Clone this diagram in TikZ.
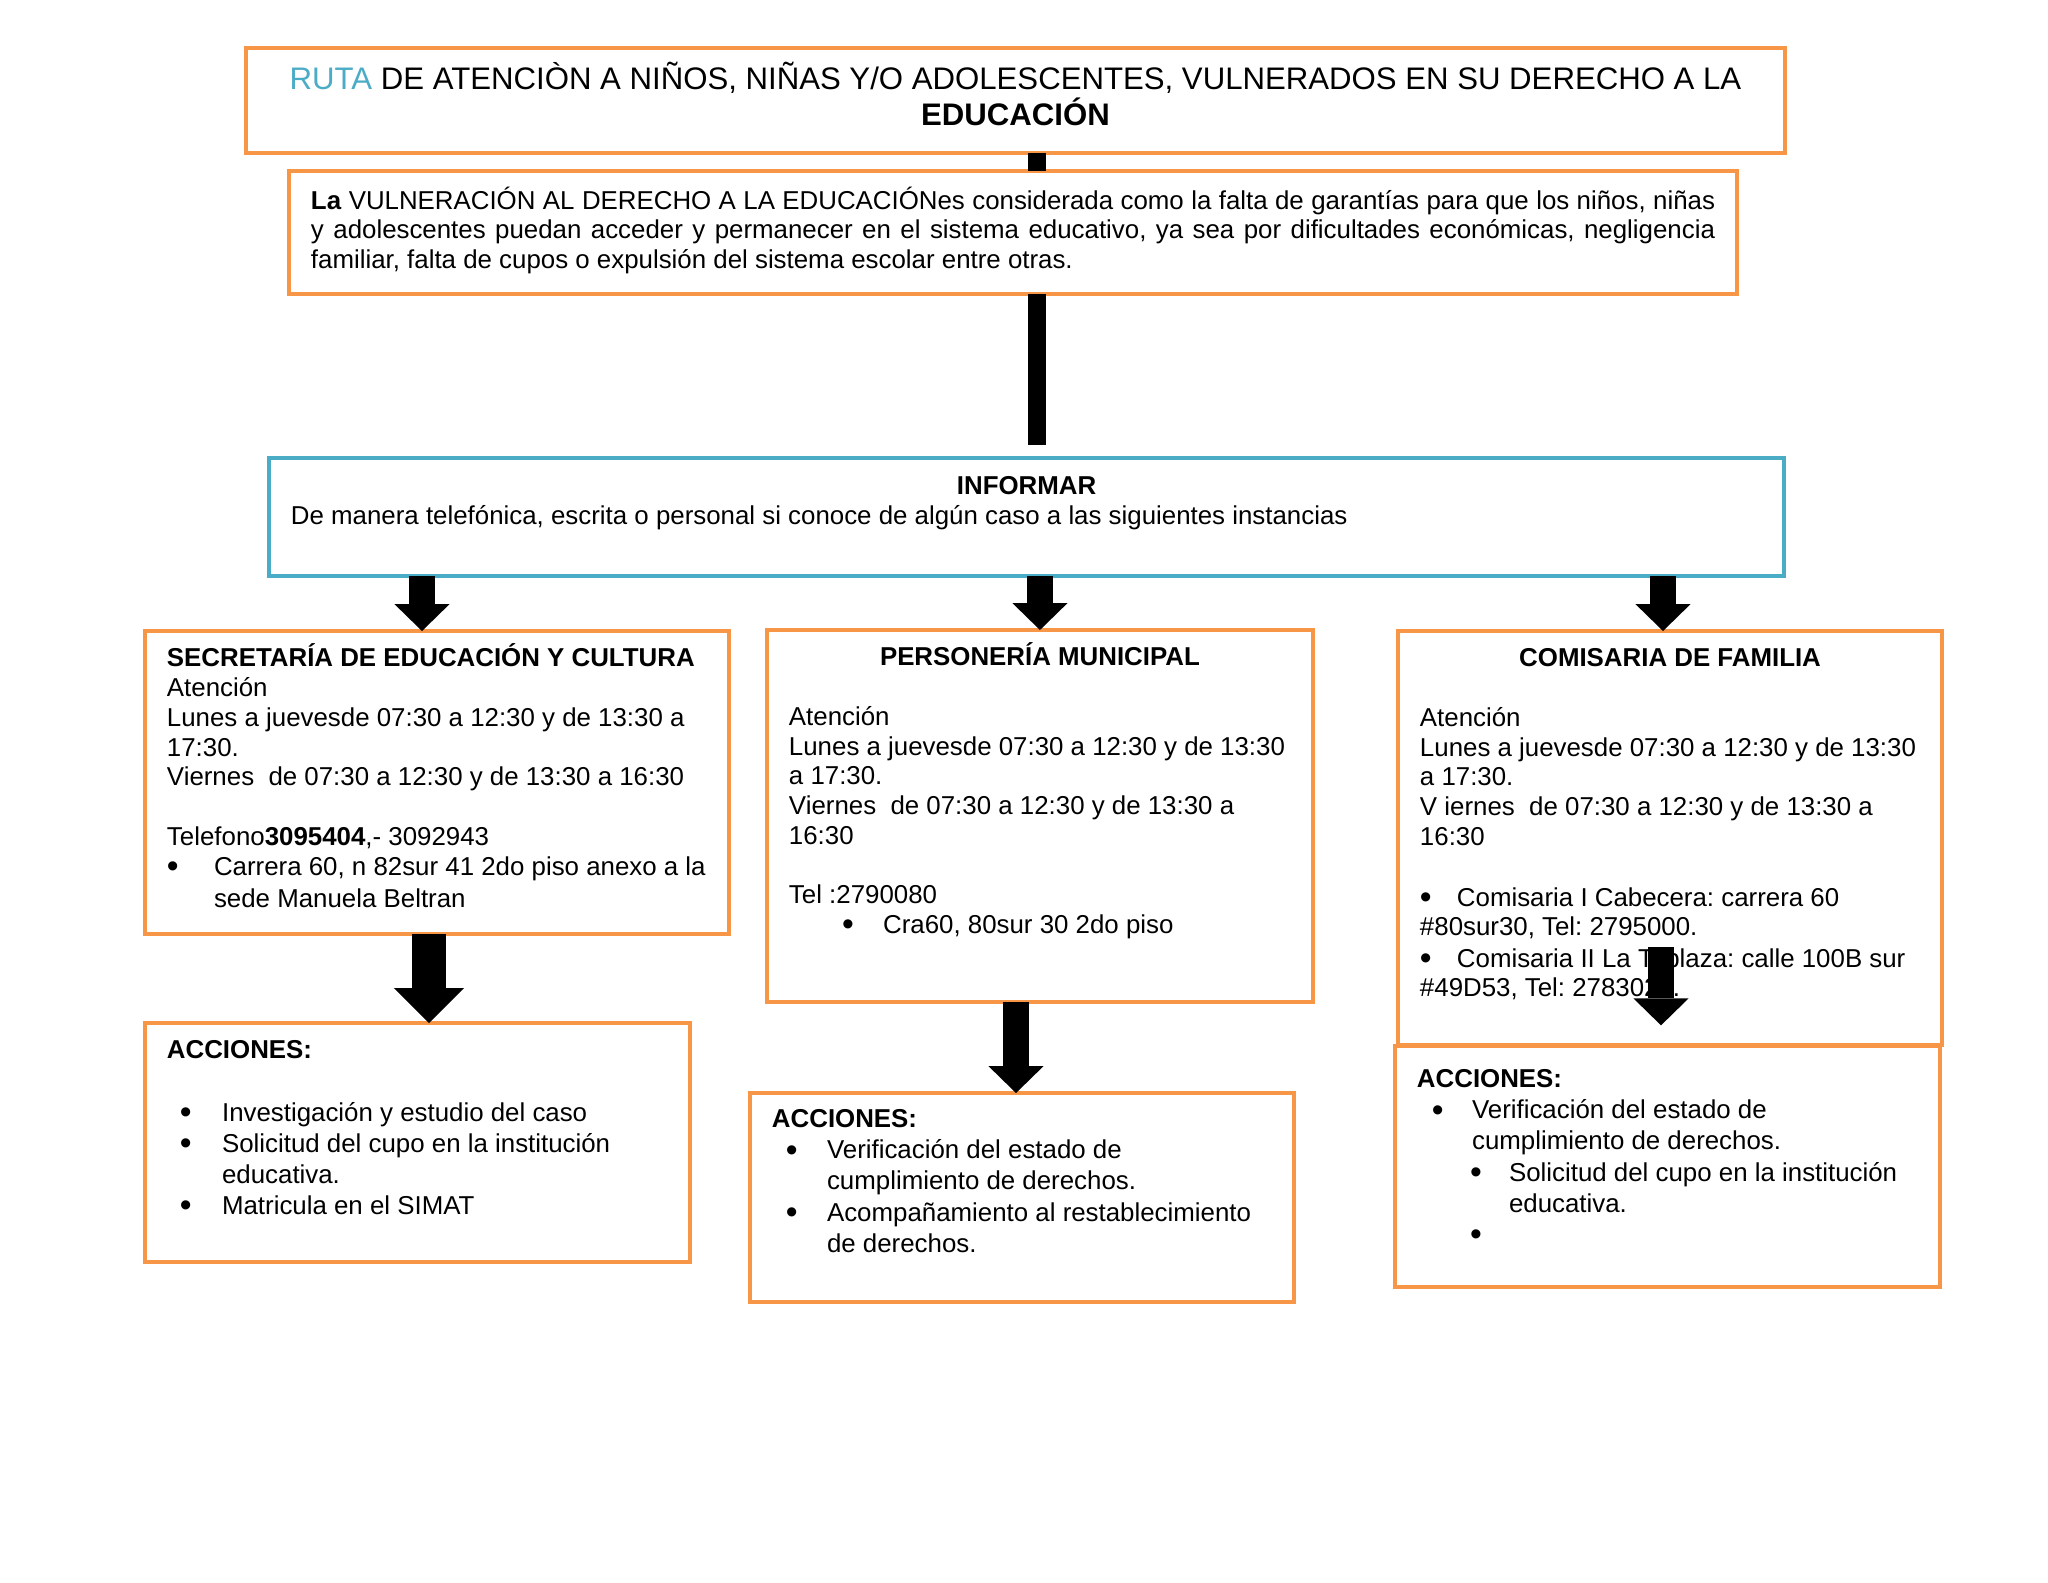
\documentclass[tikz,border=0pt]{standalone}
\usepackage{fontspec}
\setmainfont{Liberation Sans}
\usetikzlibrary{arrows.meta,positioning}
\definecolor{naranja}{HTML}{F79646}
\definecolor{celeste}{HTML}{4BACC6}
\frenchspacing
\newcommand{\vineta}[2]{\hspace*{#1}\makebox[#2][l]{\raisebox{-0.9pt}{\fontsize{13}{10}\selectfont\textbullet}}}

\begin{document}
\begin{tikzpicture}[
  x=0.3867pt, y=-0.3867pt,
  caja/.style={draw=naranja, line width=1.7pt, anchor=north west, outer sep=0pt,
    inner xsep=8.5pt, inner ysep=0pt, align=flush left, font=\fontsize{10}{11.5}\selectfont},
  accion/.style={caja, font=\fontsize{10}{12}\selectfont},
  barra/.style={line width=7.3pt},
  flecha/.style={line width=10.4pt, -{Triangle[length=10.4pt, width=21.3pt, line width=0pt]}},
  flechaancha/.style={line width=13.1pt, -{Triangle[length=13.5pt, width=27.1pt, line width=0pt]}}
]
\useasboundingbox (0,0) rectangle (2048,1582);
\fill[white] (0,0) rectangle (2048,1582);

% titulo y definicion
\node[draw=naranja, line width=1.7pt, anchor=north, outer sep=0pt, inner sep=0pt,
  text width=595.2pt, text height=15.9pt, text depth=24.7pt, align=flush center,
  font=\fontsize{12.05}{14.1}\selectfont] (titulo) at (1015.5,48)
  {{\color{celeste}RUTA} DE ATENCIÒN A NIÑOS, NIÑAS Y/O ADOLESCENTES, VULNERADOS EN SU DERECHO A LA\\
   \textbf{EDUCACIÓN}};
\node[caja, align=justify, text width=543pt, text height=14.7pt, text depth=32.9pt] (def) at (289,171)
  {\textbf{La} VULNERACIÓN AL DERECHO A LA EDUCACIÓNes considerada como la falta de garantías para que los niños, niñas\linebreak
   y adolescentes puedan acceder y permanecer en el sistema educativo, ya sea por dificultades económicas, negligencia\linebreak
   familiar, falta de cupos o expulsión del sistema escolar entre otras.};

% informar
\node[caja, draw=celeste, text width=568.9pt, text height=14.3pt, text depth=31.3pt] (informar) at (269,458)
  {\makebox[\linewidth]{\textbf{INFORMAR}}\\
   De manera telefónica, escrita o personal si conoce de algún caso a las siguientes instancias};

% instancias
\node[caja, text width=208.8pt, text height=13.9pt, text depth=103.3pt] (sec) at (145,631)
  {\textbf{SECRETARÍA DE EDUCACIÓN Y CULTURA}\\
   Atención\\
   Lunes a juevesde 07:30 a 12:30 y de 13:30 a\\
   17:30.\\
   Viernes\ \ de 07:30 a 12:30 y de 13:30 a 16:30\\[11.5pt]
   Telefono\textbf{3095404},- 3092943\\
   \vineta{0pt}{18.2pt}Carrera 60, n 82sur 41 2do piso anexo a la\\[1.1pt]
   \hspace*{18.2pt}sede Manuela Beltran};
\node[caja, text width=194.1pt, text height=13.9pt, text depth=130pt] (per) at (767,630)
  {\makebox[\linewidth]{\textbf{PERSONERÍA MUNICIPAL}}\\[11.5pt]
   Atención\\
   Lunes a juevesde 07:30 a 12:30 y de 13:30\\
   a 17:30.\\
   Viernes\ \ de 07:30 a 12:30 y de 13:30 a\\
   16:30\\[11.5pt]
   Tel :2790080\\
   \vineta{20.5pt}{15.9pt}Cra60, 80sur 30 2do piso};
\node[caja, text width=193.4pt, text height=13.9pt, text depth=146.2pt] (com) at (1398,631)
  {\makebox[\linewidth]{\textbf{COMISARIA DE FAMILIA}}\\[11.5pt]
   Atención\\
   Lunes a juevesde 07:30 a 12:30 y de 13:30\\
   a 17:30.\\
   V iernes\ \ de 07:30 a 12:30 y de 13:30 a\\
   16:30\\[12pt]
   \vineta{0pt}{14.3pt}Comisaria I Cabecera: carrera 60\\
   \#80sur30, Tel: 2795000.\\[0.6pt]
   \vineta{0pt}{14.3pt}Comisaria II La Tablaza: calle 100B sur\\
   \#49D53, Tel: 2783020.};

% acciones
\node[accion, text width=193.8pt, text height=13.9pt, text depth=78.5pt] (acc1) at (145,1023)
  {\textbf{ACCIONES:}\\[12pt]
   \vineta{5pt}{16.3pt}Investigación y estudio del caso\\
   \vineta{5pt}{16.3pt}Solicitud del cupo en la institución\\
   \hspace*{21.3pt}educativa.\\
   \vineta{5pt}{16.3pt}Matricula en el SIMAT};
\node[accion, text width=193.4pt, text height=13.5pt, text depth=67.3pt] (acc2) at (750,1093)
  {\textbf{ACCIONES:}\\
   \vineta{5.4pt}{15.9pt}Verificación del estado de\\
   \hspace*{21.3pt}cumplimiento de derechos.\\
   \vineta{5.4pt}{15.9pt}Acompañamiento al restablecimiento\\
   \hspace*{21.3pt}de derechos.};
\node[accion, text width=193.8pt, text height=16.2pt, text depth=77pt] (acc3) at (1395,1046)
  {\textbf{ACCIONES:}\\
   \vineta{5.8pt}{15.5pt}Verificación del estado de\\
   \hspace*{21.3pt}cumplimiento de derechos.\\
   \vineta{20.5pt}{15.1pt}Solicitud del cupo en la institución\\
   \hspace*{35.6pt}educativa.\\
   \vineta{20.5pt}{15.1pt}};

% conectores
\coordinate (eje) at (1037,0);
\coordinate (f1) at (422,0);
\coordinate (f3) at (1663,0);
\coordinate (g1) at (429,0);
\coordinate (g2) at (1016,0);
\coordinate (g3) at (1661,947);

\draw[barra] (titulo.south -| eje) -- (def.north -| eje);
\draw[barra, shorten >=5pt] (def.south -| eje) -- (informar.north -| eje);
\draw[flecha] (informar.south -| f1) -- (sec.north -| f1);
\draw[flecha] (informar.south -| per.north) -- (per.north);
\draw[flecha] (informar.south -| f3) -- (com.north -| f3);
\draw[flechaancha] (sec.south -| g1) -- (acc1.north -| g1);
\draw[flecha] (per.south -| g2) -- (acc2.north -| g2);
\draw[flecha, shorten >=8pt] (g3) -- (acc3.north -| g3);
\end{tikzpicture}
\end{document}
